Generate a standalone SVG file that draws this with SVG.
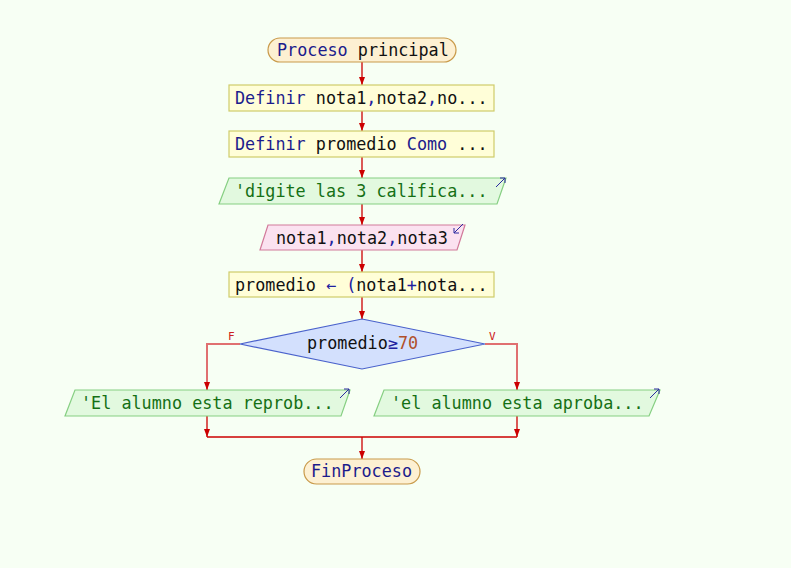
<svg xmlns="http://www.w3.org/2000/svg" width="791" height="568" viewBox="0 0 791 568">
<defs>
<style>
text{font-family:"DejaVu Sans Mono","Liberation Mono",monospace;font-size:16.8px;fill:#111}
.kw{fill:#1c1c8c}
.op{fill:#2020a0}
.str{fill:#157015}
.num{fill:#b0502a}
.term{fill:#fdf0d2;stroke:#c99a4a;stroke-width:1.2}
.proc{fill:#fffed8;stroke:#cfcc6a;stroke-width:1.2}
.out{fill:#e2f9df;stroke:#86cf82;stroke-width:1.2}
.in{fill:#fbe2f0;stroke:#d27a9a;stroke-width:1.2}
.dec{fill:#d3e0fd;stroke:#4a62cc;stroke-width:1.2}
.ln{stroke:#cc0000;stroke-width:1.3;fill:none}
.br{stroke:#e07070;stroke-width:2;fill:none}
.ic{stroke:#2a2aa0;stroke-width:1;fill:none}
.lbl{font-family:"DejaVu Sans Mono",monospace;font-size:11px;fill:#cc2020}
</style>
<marker id="ah" markerWidth="8" markerHeight="6" refX="8" refY="3" orient="auto" markerUnits="userSpaceOnUse">
<path d="M0,0 L8,3 L0,6 z" fill="#cc0000"/>
</marker>
</defs>
<rect width="791" height="568" fill="#f7fff4"/>
<g id="connectors">
<line class="ln" x1="362" y1="62" x2="362" y2="85" marker-end="url(#ah)"/>
<line class="ln" x1="362" y1="111" x2="362" y2="131" marker-end="url(#ah)"/>
<line class="ln" x1="362" y1="157" x2="362" y2="178" marker-end="url(#ah)"/>
<line class="ln" x1="362" y1="204" x2="362" y2="225" marker-end="url(#ah)"/>
<line class="ln" x1="362" y1="250" x2="362" y2="272" marker-end="url(#ah)"/>
<line class="ln" x1="362" y1="297" x2="362" y2="319" marker-end="url(#ah)"/>
<polyline class="br" points="240,344 207,344 207,385"/>
<line class="ln" x1="207" y1="384" x2="207" y2="390" marker-end="url(#ah)"/>
<polyline class="br" points="485,344 517,344 517,385"/>
<line class="ln" x1="517" y1="384" x2="517" y2="390" marker-end="url(#ah)"/>
<line class="ln" x1="207" y1="416" x2="207" y2="437" marker-end="url(#ah)"/>
<line class="ln" x1="517" y1="416" x2="517" y2="437" marker-end="url(#ah)"/>
<line class="ln" x1="207" y1="437" x2="517" y2="437"/>
<line class="ln" x1="362" y1="437" x2="362" y2="459" marker-end="url(#ah)"/>
<text class="lbl" x="228" y="340">F</text>
<text class="lbl" x="489" y="340">V</text>
</g>
<g id="start">
<rect class="term" x="268" y="38" width="188" height="24" rx="12"/>
<text x="277" y="56"><tspan class="kw">Proceso</tspan> principal</text>
</g>
<g id="def1">
<rect class="proc" x="229" y="85" width="265" height="26"/>
<text x="235" y="104"><tspan class="kw">Definir</tspan> nota1<tspan class="op">,</tspan>nota2<tspan class="op">,</tspan>no...</text>
</g>
<g id="def2">
<rect class="proc" x="229" y="131" width="265" height="26"/>
<text x="235" y="150"><tspan class="kw">Definir</tspan> promedio <tspan class="kw">Como</tspan> ...</text>
</g>
<g id="out1">
<polygon class="out" points="229,178 506,178 497,204 219,204"/>
<path class="ic" d="M496,187 L505,178 M500,178 L505,178 L505,183"/>
<text x="235" y="197" class="str">'digite las 3 califica...</text>
</g>
<g id="in1">
<polygon class="in" points="268,225 465,225 457,250 260,250"/>
<path class="ic" d="M463,224 L454,233 M454,228 L454,233 L459,233"/>
<text x="276" y="244">nota1<tspan class="op">,</tspan>nota2<tspan class="op">,</tspan>nota3</text>
</g>
<g id="assign">
<rect class="proc" x="229" y="272" width="265" height="25"/>
<text x="235" y="291">promedio <tspan class="op">←</tspan> <tspan class="op">(</tspan>nota1<tspan class="op">+</tspan>nota...</text>
</g>
<g id="decision">
<polygon class="dec" points="362,319 485,344 362,369 240,344"/>
<text x="307" y="349">promedio<tspan class="op">≥</tspan><tspan class="num">70</tspan></text>
</g>
<g id="outF">
<polygon class="out" points="75,390 350,390 341,416 65,416"/>
<path class="ic" d="M340,398 L349,389 M344,389 L349,389 L349,394"/>
<text x="81" y="409" class="str">'El alumno esta reprob...</text>
</g>
<g id="outV">
<polygon class="out" points="384,390 660,390 649,416 374,416"/>
<path class="ic" d="M650,398 L659,389 M654,389 L659,389 L659,394"/>
<text x="391" y="409" class="str">'el alumno esta aproba...</text>
</g>
<g id="end">
<rect class="term" x="304" y="459" width="116" height="25" rx="12.5"/>
<text x="311" y="477" class="kw">FinProceso</text>
</g>
</svg>
